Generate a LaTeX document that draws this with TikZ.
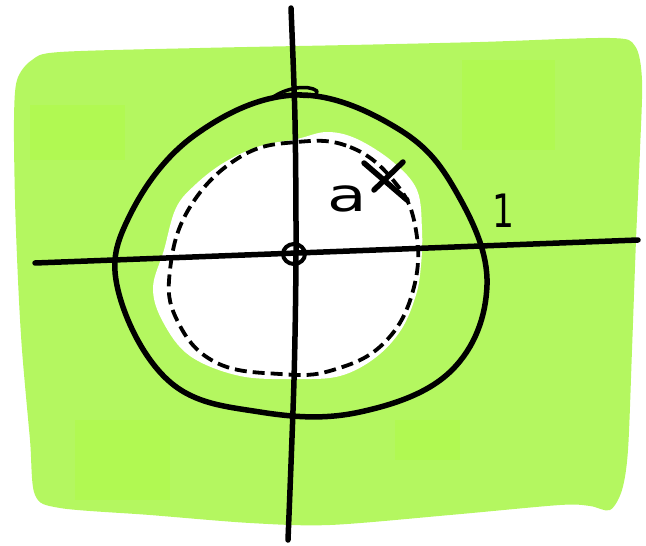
\documentclass[tikz,border=0pt]{standalone}
\usepackage{fontspec}
\setmainfont{DejaVu Sans}
\usetikzlibrary{shapes.geometric}
\definecolor{lime}{RGB}{180,247,96}
\definecolor{limepatch}{RGB}{177,249,82}
\begin{document}
\begin{tikzpicture}[x=1pt,y=-1pt,
  pen/.style={line width=5.5pt,line cap=round,line join=round},
  thinpen/.style={line width=3.5pt,line cap=round,line join=round},
  dashpen/.style={line width=3.8pt,dash pattern=on 12pt off 6pt},
  lbl/.style={inner sep=0pt,text=black}]
\useasboundingbox (0,0) rectangle (646,546);
% green background blob
\fill[lime] plot[smooth cycle,tension=0.5] coordinates{
 (60,52) (200,48) (350,45) (480,42) (610,38) (635,46) (642,80) (640,150)
 (636,240) (632,350) (628,450) (622,490) (610,510) (590,506) (560,505)
 (450,515) (330,525) (250,523) (150,515) (60,508) (35,495) (30,440)
 (22,350) (18,280) (15,200) (14,120) (17,80) (32,60)};
\fill[limepatch] (30,105) rectangle (125,160);
\fill[limepatch] (462,60) rectangle (555,150);
\fill[limepatch] (75,420) rectangle (170,500);
\fill[limepatch] (395,420) rectangle (460,460);
% white inner blob
\fill[white] plot[smooth cycle,tension=0.6] coordinates{
 (297,139) (327,132) (357,139) (393,162) (417,190) (422,230) (421,265)
 (416,295) (401,330) (375,358) (340,376) (297,379) (240,376) (190,356)
 (163,322) (153,288) (164,250) (176,208) (196,184) (225,162) (260,146)};
% dashed inner curve
\draw[dashpen] plot[smooth cycle,tension=0.7] coordinates{
 (297,142) (350,147) (393,180) (415,225) (414,287) (385,342)
 (333,370) (280,374) (215,362) (177,320) (170,270) (190,207) (240,157)};
% outer solid curve
\draw[pen] plot[smooth cycle,tension=0.65] coordinates{
 (297,95) (400,130) (458,195) (487,285) (452,370) (360,412)
 (260,412) (170,382) (118,290) (130,215) (195,135)};
\draw[thinpen] (272,98) .. controls (285,88) and (308,84) .. (317,91)
  .. controls (318,96) and (310,97) .. (300,96);
% axes
\coordinate (xl) at (35,263);
\coordinate (xr) at (638,240);
\draw[pen] (xl) -- (xr);
\draw[pen] plot[smooth,tension=0.5] coordinates{(291,8) (295,120) (296,253) (294,380) (288,540)};
% origin
\node[draw,line width=4pt,ellipse,minimum width=22pt,minimum height=20pt,inner sep=0pt] (o) at (294,254) {};
% cross mark
\coordinate (c1) at (364,163);
\coordinate (c2) at (407,200);
\coordinate (c3) at (403,162);
\coordinate (c4) at (374,190);
\draw[pen] (c1) -- (c2);
\draw[pen] (c3) -- (c4);
% labels
\node[lbl,font=\fontsize{46}{46}\selectfont,xscale=1.4] (a) at (347,199) {a};
\node[lbl,font=\fontsize{46}{46}\selectfont,xscale=0.75] (one) at (503,211) {1};
\end{tikzpicture}
\end{document}
